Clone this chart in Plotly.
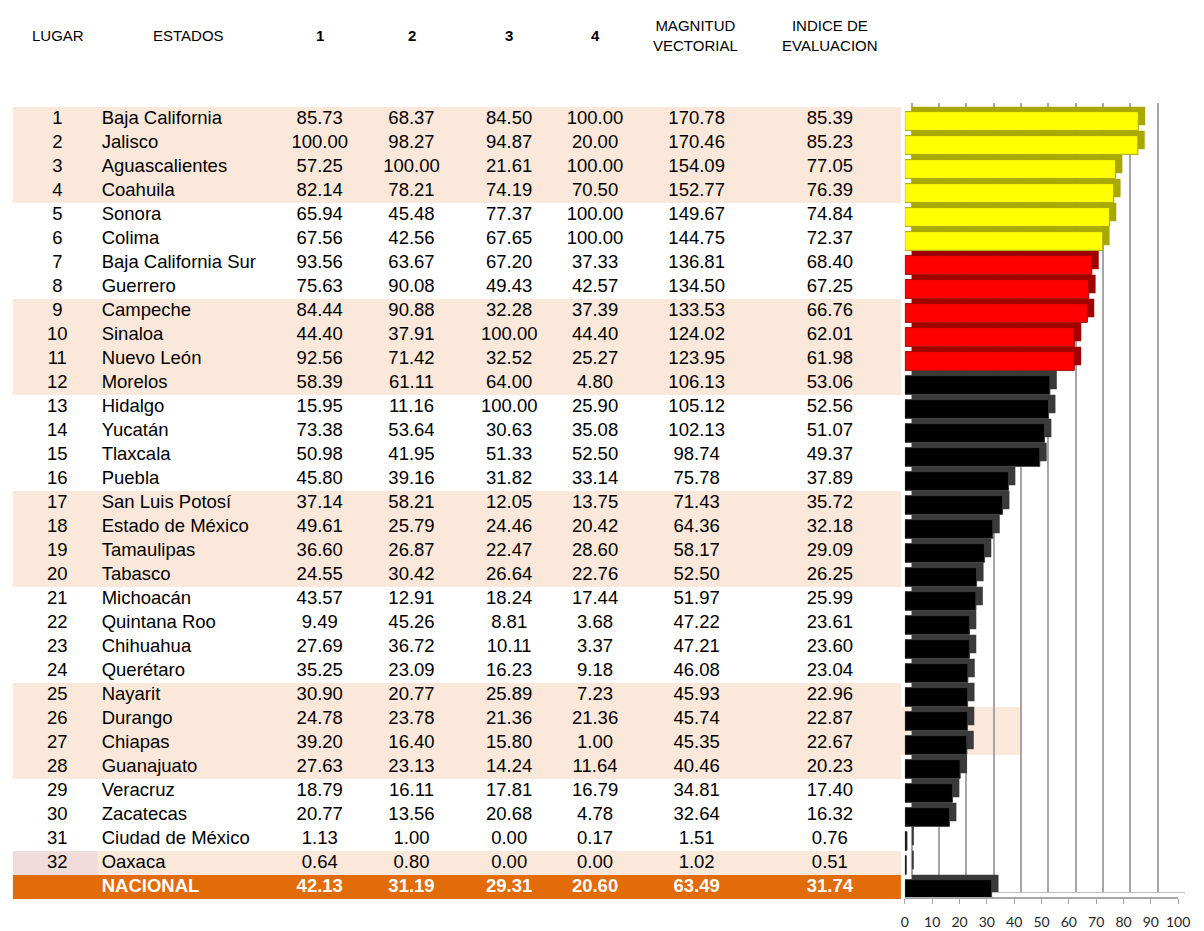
import plotly.graph_objects as go

# ---------------- data ----------------
lugar = list(range(1, 33))
estados = ["Baja California", "Jalisco", "Aguascalientes", "Coahuila", "Sonora", "Colima",
           "Baja California Sur", "Guerrero", "Campeche", "Sinaloa", "Nuevo León", "Morelos",
           "Hidalgo", "Yucatán", "Tlaxcala", "Puebla", "San Luis Potosí", "Estado de México",
           "Tamaulipas", "Tabasco", "Michoacán", "Quintana Roo", "Chihuahua", "Querétaro",
           "Nayarit", "Durango", "Chiapas", "Guanajuato", "Veracruz", "Zacatecas",
           "Ciudad de México", "Oaxaca"]
col1 = [85.73, 100.00, 57.25, 82.14, 65.94, 67.56, 93.56, 75.63, 84.44, 44.40, 92.56, 58.39,
        15.95, 73.38, 50.98, 45.80, 37.14, 49.61, 36.60, 24.55, 43.57, 9.49, 27.69, 35.25,
        30.90, 24.78, 39.20, 27.63, 18.79, 20.77, 1.13, 0.64]
col2 = [68.37, 98.27, 100.00, 78.21, 45.48, 42.56, 63.67, 90.08, 90.88, 37.91, 71.42, 61.11,
        11.16, 53.64, 41.95, 39.16, 58.21, 25.79, 26.87, 30.42, 12.91, 45.26, 36.72, 23.09,
        20.77, 23.78, 16.40, 23.13, 16.11, 13.56, 1.00, 0.80]
col3 = [84.50, 94.87, 21.61, 74.19, 77.37, 67.65, 67.20, 49.43, 32.28, 100.00, 32.52, 64.00,
        100.00, 30.63, 51.33, 31.82, 12.05, 24.46, 22.47, 26.64, 18.24, 8.81, 10.11, 16.23,
        25.89, 21.36, 15.80, 14.24, 17.81, 20.68, 0.00, 0.00]
col4 = [100.00, 20.00, 100.00, 70.50, 100.00, 100.00, 37.33, 42.57, 37.39, 44.40, 25.27, 4.80,
        25.90, 35.08, 52.50, 33.14, 13.75, 20.42, 28.60, 22.76, 17.44, 3.68, 3.37, 9.18,
        7.23, 21.36, 1.00, 11.64, 16.79, 4.78, 0.17, 0.00]
magnitud = [170.78, 170.46, 154.09, 152.77, 149.67, 144.75, 136.81, 134.50, 133.53, 124.02,
            123.95, 106.13, 105.12, 102.13, 98.74, 75.78, 71.43, 64.36, 58.17, 52.50, 51.97,
            47.22, 47.21, 46.08, 45.93, 45.74, 45.35, 40.46, 34.81, 32.64, 1.51, 1.02]
indice = [85.39, 85.23, 77.05, 76.39, 74.84, 72.37, 68.40, 67.25, 66.76, 62.01, 61.98, 53.06,
          52.56, 51.07, 49.37, 37.89, 35.72, 32.18, 29.09, 26.25, 25.99, 23.61, 23.60, 23.04,
          22.96, 22.87, 22.67, 20.23, 17.40, 16.32, 0.76, 0.51]
nacional_label = "NACIONAL"
nacional = [42.13, 31.19, 29.31, 20.60, 63.49, 31.74]
headers = ["LUGAR", "ESTADOS", "1", "2", "3", "4", "MAGNITUD<br>VECTORIAL", "INDICE DE<br>EVALUACION"]
axis_ticks = list(range(0, 101, 10))

# ---------------- style / layout constants ----------------
W, H = 1204, 931
ROW0, PITCH = 119, 24            # pixel centre of first row, row pitch
def r_of(p, base=ROW0):
    return (p - base) / PITCH

COL_X = [54, 99, 320, 413, 512, 599, 702, 837]
HEAD_X = [55, 187, 320, 413, 512, 599, 701, 837]
SHADED = [1, 2, 3, 4, 9, 10, 11, 12, 17, 18, 19, 20, 25, 26, 27, 28, 32]
SHADE = "#FCE8DA"
ORANGE = "#E26B0A"
FONT = "Liberation Sans"
FS = 18.5
TAB_L, TAB_R = 9, 909

n = len(lugar)
rows = list(range(n))
fig = go.Figure()

# row shading (table)
shapes = []
for rk in SHADED:
    r = rk - 1
    shapes.append(dict(type="rect", xref="x", yref="y", x0=TAB_L, x1=TAB_R, y0=r - 0.5, y1=r + 0.5,
                       fillcolor=SHADE, line_width=0, layer="below"))
shapes.append(dict(type="rect", xref="x", yref="y", x0=TAB_L, x1=95, y0=31 - 0.5, y1=31 + 0.5,
                   fillcolor="#F2DCDB", line_width=0, layer="below"))
shapes.append(dict(type="rect", xref="x", yref="y", x0=TAB_L, x1=TAB_R, y0=n - 0.5, y1=n + 0.5,
                   fillcolor=ORANGE, line_width=0, layer="below"))
# spreadsheet cells showing through the chart (rows 26-27)
shapes.append(dict(type="rect", xref="x", yref="y", x0=TAB_R, x1=1032, y0=25 - 0.5, y1=26 + 0.5,
                   fillcolor=SHADE, line_width=0, layer="below"))

# table text
cols = [[str(v) for v in lugar], estados,
        [f"{v:.2f}" for v in col1], [f"{v:.2f}" for v in col2],
        [f"{v:.2f}" for v in col3], [f"{v:.2f}" for v in col4],
        [f"{v:.2f}" for v in magnitud], [f"{v:.2f}" for v in indice]]
for ci, vals in enumerate(cols):
    fig.add_trace(go.Scatter(
        x=[COL_X[ci]] * n, y=rows, text=vals, mode="text",
        textposition="middle right" if ci == 1 else "middle center",
        textfont=dict(family=FONT, size=FS, color="black"),
        hoverinfo="skip", showlegend=False, xaxis="x", yaxis="y"))

# national row
nat_text = [nacional_label] + [f"{v:.2f}" for v in nacional]
fig.add_trace(go.Scatter(
    x=[COL_X[1]], y=[n], text=[f"<b>{nat_text[0]}</b>"], mode="text",
    textposition="middle right",
    textfont=dict(family=FONT, size=FS, color="white"),
    hoverinfo="skip", showlegend=False, xaxis="x", yaxis="y"))
fig.add_trace(go.Scatter(
    x=COL_X[2:], y=[n] * 6, text=[f"<b>{t}</b>" for t in nat_text[1:]], mode="text",
    textposition="middle center",
    textfont=dict(family=FONT, size=FS, color="white"),
    hoverinfo="skip", showlegend=False, xaxis="x", yaxis="y"))

# headers
annotations = []
for i, h in enumerate(headers):
    txt = f"<b>{h}</b>" if h in ("1", "2", "3", "4") else h
    annotations.append(dict(x=HEAD_X[i], y=r_of(35), xref="x", yref="y", text=txt,
                            showarrow=False, xanchor="center", yanchor="middle",
                            font=dict(family=FONT, size=15, color="black")))

# bars
vals = indice + [nacional[5]]
bar_rows = rows + [n]
def front_col(i):
    if i < 6:
        return "#FFFF00"
    if i < 11:
        return "#FF0000"
    return "#000000"
def back_col(i):
    if i < 6:
        return "#A8A800"
    if i < 11:
        return "#A00000"
    return "#3A3A3A"
fcol = [front_col(i) for i in range(n)] + ["#000000"]
bcol = [back_col(i) for i in range(n)] + ["#3A3A3A"]

fig.add_trace(go.Bar(x=vals, y=bar_rows, orientation="h", width=0.78,
                     marker=dict(color=bcol, line=dict(width=0)),
                     hoverinfo="skip", showlegend=False, xaxis="x2", yaxis="y2"))
fig.add_trace(go.Bar(x=vals, y=bar_rows, orientation="h", width=0.78,
                     marker=dict(color=fcol, line=dict(color=bcol, width=1)),
                     hoverinfo="x", showlegend=False, xaxis="x3", yaxis="y3"))

FRONT_TOP, FRONT_BOT, FRONT_BASE = 100, 897, 121
BACK_TOP, BACK_BOT, BACK_BASE = 103, 892, 116
X0, X100, DX = 913, 1190, 7

fig.update_layout(
    width=W, height=H, autosize=False,
    margin=dict(l=0, r=0, t=0, b=0),
    paper_bgcolor="white", plot_bgcolor="rgba(0,0,0,0)",
    showlegend=False, barmode="overlay",
    shapes=shapes, annotations=annotations,
    xaxis=dict(domain=[0, 1], range=[0, W], visible=False, fixedrange=True),
    yaxis=dict(domain=[0, 1], range=[r_of(H), r_of(0)], visible=False, fixedrange=True),
    xaxis2=dict(domain=[(X0 + DX) / W, (X100 + DX) / W], range=[0, 100], anchor="y2",
                showgrid=True, gridcolor="#A6A6A6", gridwidth=1.5, tickvals=axis_ticks,
                showticklabels=False, ticks="", zeroline=True, zerolinecolor="#A6A6A6",
                zerolinewidth=1.5, showline=True, linecolor="#BFBFBF", fixedrange=True),
    yaxis2=dict(domain=[1 - BACK_BOT / H, 1 - BACK_TOP / H],
                range=[r_of(BACK_BOT, BACK_BASE), r_of(BACK_TOP, BACK_BASE)],
                anchor="x2", visible=False, fixedrange=True),
    xaxis3=dict(domain=[X0 / W, X100 / W], range=[0, 100], anchor="y3",
                showgrid=False, tickvals=axis_ticks, ticks="outside", ticklen=5,
                tickcolor="#A6A6A6", showline=True, linecolor="#A6A6A6", linewidth=1.5,
                zeroline=False, ticklabelstandoff=6, ticklabeloverflow="allow",
                tickfont=dict(family="Lato", size=14, color="#262626"),
                fixedrange=True),
    yaxis3=dict(domain=[1 - FRONT_BOT / H, 1 - FRONT_TOP / H],
                range=[r_of(FRONT_BOT, FRONT_BASE), r_of(FRONT_TOP, FRONT_BASE)],
                anchor="x3", visible=False, fixedrange=True),
)

fig.write_html("out.html", config={"displayModeBar": False, "responsive": False},
               post_script="document.body.style.margin='0';document.body.style.overflow='hidden';")
